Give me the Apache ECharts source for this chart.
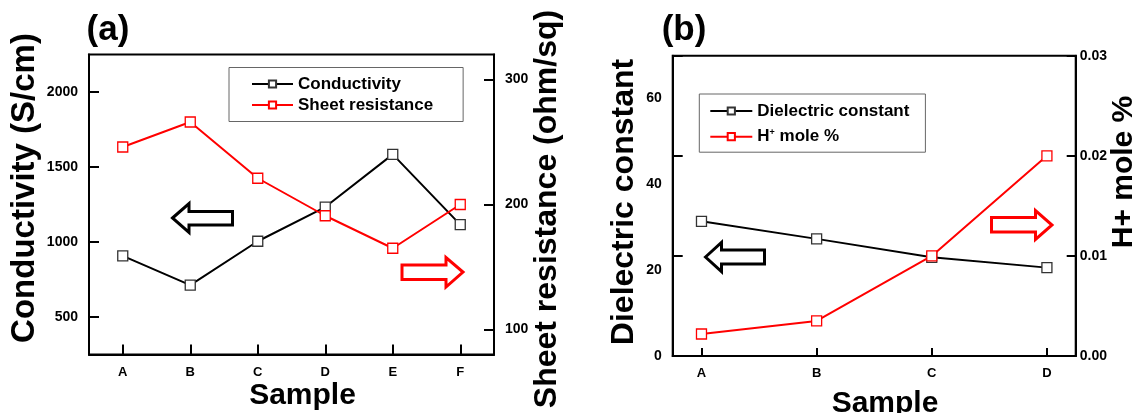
<!DOCTYPE html>
<html><head><meta charset="utf-8">
<script src="https://cdn.jsdelivr.net/npm/echarts@6/dist/echarts.min.js"></script>
<style>html,body{margin:0;padding:0;background:#fff}#c{width:1144px;height:413px}</style>
</head><body><div id="c"></div>
<script>
// ---- data ----
const samplesA = ['A', 'B', 'C', 'D', 'E', 'F'];
const conductivity = [907, 712, 1005, 1233, 1584, 1116];          // S/cm (left axis)
const sheetResistance = [246, 266, 221, 191, 165, 200];           // ohm/sq (right axis)
const samplesB = ['A', 'B', 'C', 'D'];
const dielectric = [31.4, 27.3, 23.0, 20.6];                       // left axis
const hMole = [0.0022, 0.0035, 0.0100, 0.0200];                    // right axis
const condRange = [250, 2250];
const sheetRange = [80, 320];
const dielRange = [0, 70];
const hRange = [0, 0.03];

const F = "'Liberation Sans', Arial, sans-serif";
const BLACK = '#000', RED = '#ff0000';

const axisLine = { show: true, onZero: false, lineStyle: { color: BLACK, width: 2 } };
const tick = (len) => ({ show: true, inside: true, length: len, lineStyle: { color: BLACK, width: 2 } });
const lbl = (extra) => Object.assign({ color: BLACK, fontWeight: 'bold', fontFamily: F, fontSize: 14 }, extra);
const plain = (v) => String(v);

const chart = echarts.init(document.getElementById('c'), null, { renderer: 'canvas' });

function lineSeries(name, color, markerBorder, xi, yi, data) {
  return {
    name, type: 'line', xAxisIndex: xi, yAxisIndex: yi, data,
    symbol: 'rect', symbolSize: 10, showAllSymbol: true,
    lineStyle: { color, width: 2 },
    itemStyle: { color: '#fff', borderColor: markerBorder, borderWidth: 1.3 },
    emphasis: { disabled: true }, silent: true
  };
}

const legendText = { color: BLACK, fontWeight: 'bold', fontFamily: F, fontSize: 17, lineHeight: 17 };

const option = {
  animation: false,
  backgroundColor: '#fff',
  grid: [
    { left: 89, top: 54.5, width: 405, height: 300, show: true, borderColor: BLACK, borderWidth: 2, backgroundColor: 'transparent' },
    { left: 672.7, top: 55.7, width: 403, height: 300.3, show: true, borderColor: BLACK, borderWidth: 2, backgroundColor: 'transparent' }
  ],
  xAxis: [
    { gridIndex: 0, type: 'category', data: samplesA, boundaryGap: true,
      axisLine, axisTick: Object.assign(tick(10), { alignWithLabel: true }),
      axisLabel: lbl({ fontSize: 13, margin: 11 }), splitLine: { show: false } },
    { gridIndex: 1, type: 'value', min: -0.25, max: 3.25, splitNumber: 3,
      axisLine, axisTick: tick(8),
      axisLabel: lbl({ fontSize: 13, margin: 11, showMinLabel: false, showMaxLabel: false,
        formatter: (v) => Number.isInteger(v) && samplesB[v] !== undefined ? samplesB[v] : '' }),
      splitLine: { show: false } }
  ],
  yAxis: [
    { gridIndex: 0, type: 'value', position: 'left', min: condRange[0], max: condRange[1], splitNumber: 4,
      axisLine, axisTick: tick(10),
      axisLabel: lbl({ margin: 11, showMinLabel: false, showMaxLabel: false, formatter: plain }), splitLine: { show: false } },
    { gridIndex: 0, type: 'value', position: 'right', min: sheetRange[0], max: sheetRange[1], splitNumber: 2,
      axisLine, axisTick: tick(10),
      axisLabel: lbl({ margin: 11, showMinLabel: false, showMaxLabel: false, formatter: plain }), splitLine: { show: false } },
    { gridIndex: 1, type: 'value', position: 'left', min: dielRange[0], max: dielRange[1], interval: 20,
      axisLine, axisTick: { show: false },
      axisLabel: lbl({ margin: 11, showMaxLabel: false, formatter: plain }), splitLine: { show: false } },
    { gridIndex: 1, type: 'value', position: 'right', min: hRange[0], max: hRange[1], interval: 0.01,
      axisLine, axisTick: tick(9),
      axisLabel: lbl({ margin: 4, formatter: (v) => v.toFixed(2) }), splitLine: { show: false } },
    // mirrored right-axis ticks shown on the left frame of panel (b)
    { gridIndex: 1, type: 'value', position: 'left', min: hRange[0], max: hRange[1], interval: 0.01,
      axisLine: { show: false, onZero: false }, axisTick: tick(10), axisLabel: { show: false }, splitLine: { show: false } }
  ],
  legend: [
    { data: ['Conductivity', 'Sheet resistance'], orient: 'vertical', left: 229, top: 67.5,
      padding: [8, 30, 8, 22], itemWidth: 41, itemHeight: 9, itemGap: 4, selectedMode: false,
      borderColor: '#666', borderWidth: 1, backgroundColor: '#fff', textStyle: legendText },
    { data: ['Dielectric constant', 'H+ mole %'], orient: 'vertical', left: 699.3, top: 94,
      padding: [8.5, 16, 7, 10], itemWidth: 42, itemHeight: 9, itemGap: 8.7, selectedMode: false,
      borderColor: '#666', borderWidth: 1, backgroundColor: '#fff',
      formatter: (n) => n === 'H+ mole %' ? '{t|H}{s|+}{t| mole %}' : '{t|' + n + '}',
      textStyle: Object.assign({}, legendText, { rich: {
        t: legendText,
        s: { color: BLACK, fontWeight: 'bold', fontFamily: F, fontSize: 9, lineHeight: 17, verticalAlign: 'top' }
      } }) }
  ],
  series: [
    lineSeries('Conductivity', BLACK, '#333', 0, 0, conductivity),
    lineSeries('Sheet resistance', RED, RED, 0, 1, sheetResistance),
    lineSeries('Dielectric constant', BLACK, '#333', 1, 2, samplesB.map((s, i) => [i, dielectric[i]])),
    lineSeries('H+ mole %', RED, RED, 1, 3, samplesB.map((s, i) => [i, hMole[i]]))
  ],
  graphic: [
    { type: 'text', x: 108, y: 30, style: { text: '(a)', font: "bold 35px 'Liberation Sans'", fill: BLACK, align: 'center', verticalAlign: 'middle' } },
    { type: 'text', x: 684, y: 30, style: { text: '(b)', font: "bold 35px 'Liberation Sans'", fill: BLACK, align: 'center', verticalAlign: 'middle' } },
    { type: 'text', x: 25, y: 188, rotation: Math.PI / 2, style: { text: 'Conductivity (S/cm)', font: "bold 33px 'Liberation Sans'", fill: BLACK, align: 'center', verticalAlign: 'middle' } },
    { type: 'text', x: 547, y: 209, rotation: Math.PI / 2, style: { text: 'Sheet resistance (ohm/sq)', font: "bold 32px 'Liberation Sans'", fill: BLACK, align: 'center', verticalAlign: 'middle' } },
    { type: 'text', x: 624, y: 202, rotation: Math.PI / 2, style: { text: 'Dielectric constant', font: "bold 32px 'Liberation Sans'", fill: BLACK, align: 'center', verticalAlign: 'middle' } },
    { type: 'text', x: 1124, y: 172, rotation: Math.PI / 2, style: { text: 'H+ mole %', font: "bold 30px 'Liberation Sans'", fill: BLACK, align: 'center', verticalAlign: 'middle' } },
    { type: 'text', x: 302.5, y: 396, style: { text: 'Sample', font: "bold 30px 'Liberation Sans'", fill: BLACK, align: 'center', verticalAlign: 'middle' } },
    { type: 'text', x: 885, y: 404, style: { text: 'Sample', font: "bold 30px 'Liberation Sans'", fill: BLACK, align: 'center', verticalAlign: 'middle' } },
    // direction arrows
    { type: 'polygon', z: 10, shape: { points: [[172.5, 218], [189, 203.5], [189, 211.5], [232.5, 211.5], [232.5, 225], [189, 225], [189, 232.5]] },
      style: { fill: '#fff', stroke: BLACK, lineWidth: 3 } },
    { type: 'polygon', z: 10, shape: { points: [[402, 265], [446, 265], [446, 257.5], [463, 272], [446, 287], [446, 279.5], [402, 279.5]] },
      style: { fill: '#fff', stroke: RED, lineWidth: 3 } },
    { type: 'polygon', z: 10, shape: { points: [[705.5, 257], [721.5, 242.5], [721.5, 250], [764.5, 250], [764.5, 264], [721.5, 264], [721.5, 271.5]] },
      style: { fill: '#fff', stroke: BLACK, lineWidth: 3 } },
    { type: 'polygon', z: 10, shape: { points: [[991.5, 217.5], [1035.5, 217.5], [1035.5, 210.5], [1052, 225], [1035.5, 239.5], [1035.5, 232], [991.5, 232]] },
      style: { fill: '#fff', stroke: RED, lineWidth: 3 } }
  ]
};
chart.setOption(option);
</script>
</body></html>
